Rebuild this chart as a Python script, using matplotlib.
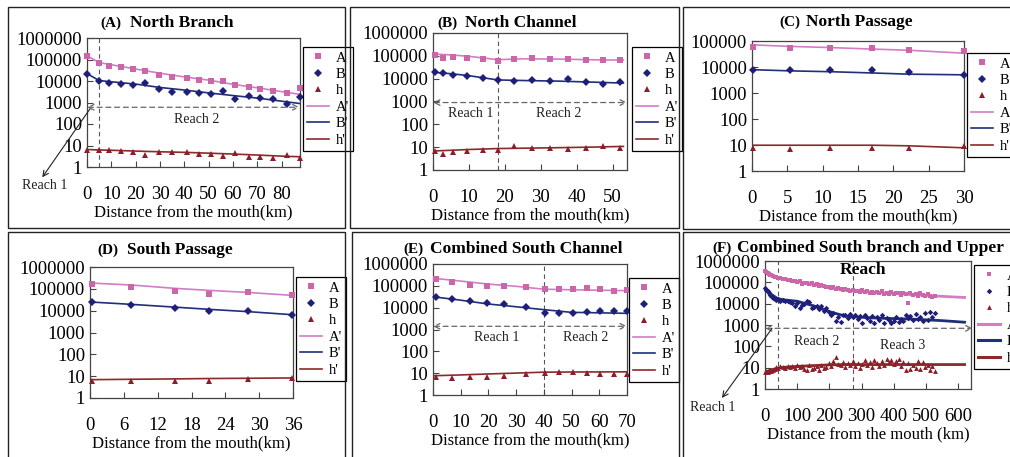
import numpy as np
import matplotlib.pyplot as plt
from matplotlib.ticker import FixedLocator, FuncFormatter, NullLocator
from matplotlib.patches import Rectangle
from matplotlib.lines import Line2D

plt.rcParams['font.family'] = ['Liberation Serif', 'DejaVu Serif']

W, H = 1010, 457

# ---- data ----
# (A) North Branch
nb_x = [0, 5, 9, 14, 19, 24, 29.5, 35, 41, 46, 51, 56, 61, 66.5, 71, 76.5, 82, 87.3]
nb_A = [150000, 70000, 52000, 43000, 35000, 29000, 20000, 15500, 14500, 11000,
        10500, 9500, 6500, 5300, 4300, 3400, 2800, 4800]
nb_B = [22000, 10200, 8200, 7500, 6800, 8300, 4200, 3000, 3000, 2800,
        2600, 3300, 1500, 2100, 1600, 1500, 850, 1900]
nb_h = [6, 6, 6, 5.5, 5, 3.5, 5, 5, 4.8, 4.2, 4.2, 3.4, 4.5, 2.8, 3, 2.5, 3.6, 2.6]
nb_fx = [0, 5, 10, 20, 30, 40, 50, 60, 70, 80, 87.3]
nb_fA = [150000, 72000, 57000, 36000, 23000, 15500, 11000, 7000, 4800, 3200, 2400]
nb_fB = [22000, 10500, 9200, 7200, 5000, 3800, 2800, 2100, 1600, 1150, 900]
nb_fh = [6.5, 6.2, 6, 5.5, 5.1, 4.8, 4.4, 4, 3.6, 3.2, 3]

# (B) North Channel
nc_x = [0.5, 2.7, 5.5, 9.5, 14, 18, 22.6, 27.5, 32.5, 37.5, 42.5, 47.3, 52]
nc_A = [110000, 80000, 85000, 80000, 72000, 60000, 75000, 78000, 76000, 72000, 67000, 67000, 67000]
nc_B = [19000, 17000, 15000, 13500, 11000, 8500, 8000, 8500, 8000, 9500, 6800, 6000, 7500]
nc_h = [6.5, 5.2, 6.2, 6.8, 7.2, 7.2, 11, 9.2, 9.5, 8.2, 9.5, 11, 9.2]
nc_fx = [0, 5, 10, 18, 25, 35, 45, 53]
nc_fA = [120000, 110000, 95000, 68000, 74000, 72000, 67000, 65000]
nc_fB = [19000, 16500, 13500, 8800, 8300, 7800, 7000, 6400]
nc_fh = [6.8, 7.3, 7.9, 8.7, 9.0, 9.5, 10.1, 10.8]

# (C) North Passage
np_x = [0.2, 5.4, 11, 17, 22.2, 30]
np_A = [58000, 52000, 56000, 52000, 45000, 42000]
np_B = [7900, 7500, 7900, 7500, 6300, 5100]
np_h = [8, 6.9, 7.6, 7.6, 7.6, 8.8]
np_fx = [0, 5.4, 11, 17, 22.2, 30]
np_fA = [71000, 62000, 56000, 49000, 44000, 34000]
np_fB = [7900, 7100, 6600, 5900, 5300, 5000]
np_fh = [9.8, 9.8, 9.8, 9.8, 9.3, 7.8]

# (D) South Passage
sp_x = [0.4, 7.3, 15.1, 21.1, 28.1, 35.9]
sp_A = [161000, 121000, 79000, 60000, 69000, 50000]
sp_B = [25000, 19000, 13000, 10000, 9300, 6500]
sp_h = [6.3, 6.3, 6.3, 6.3, 7.5, 8]
sp_fx = [0, 7.3, 15.1, 21.1, 28.1, 36]
sp_fA = [185000, 150000, 105000, 85000, 68000, 50000]
sp_fB = [25000, 19500, 14500, 11500, 9000, 6500]
sp_fh = [6.9, 7.2, 7.5, 7.8, 8.0, 8.3]

# (E) Combined South Channel
cs_x = [1.0, 6.9, 13.5, 19.4, 25.7, 33.5, 40.5, 45.6, 50.4, 55.4, 60.2, 65.2, 70]
cs_A = [200000, 151000, 112000, 100000, 100000, 84000, 68000, 68000, 68000, 76000, 68000, 57000, 63000]
cs_B = [29500, 25000, 19300, 15800, 14200, 10400, 5900, 5900, 5900, 6300, 6800, 6800, 6800]
cs_h = [6.8, 6.3, 6.8, 6.8, 7.6, 9.0, 10.7, 11.9, 11.9, 10.7, 9.6, 9.6, 9.6]
cs_fx = [0, 10, 20, 30, 40, 50, 60, 70]
cs_fA = [223000, 165000, 120000, 95000, 70000, 66000, 63000, 60000]
cs_fB = [31600, 22000, 14700, 11000, 8100, 6100, 5800, 5500]
cs_fh = [7.6, 8.3, 9.2, 10.1, 11.1, 11.3, 11.4, 11.5]

# (F) Combined South branch and Upper Reach
sb_x = [0, 4, 8, 12, 16, 20, 25, 30, 35, 40,
        47, 55, 62, 70, 78, 85, 92, 100, 108, 115,
        122, 130, 138, 145, 152, 160, 168, 175, 182, 190,
        198, 205, 212, 220, 228, 235, 242, 250, 258, 265,
        272, 280, 288, 295, 302, 310, 318, 325, 332, 340,
        348, 355, 362, 370, 378, 385, 392, 400, 408, 415,
        422, 430, 438, 445, 452, 460, 468, 475, 482, 490,
        498, 505, 512, 520, 527]
sb_A = [330000, 300000, 270000, 250000, 230000, 210000, 200000, 180000, 170000, 160000,
        155000, 145000, 150000, 130000, 125000, 120000, 115000, 105000, 110000, 80000,
        95000, 90000, 85000, 95000, 75000, 80000, 70000, 72000, 65000, 60000,
        62000, 55000, 58000, 50000, 52000, 47000, 45000, 48000, 42000, 40000,
        44000, 38000, 40000, 36000, 45000, 35000, 38000, 33000, 36000, 30000,
        34000, 31000, 40000, 29000, 32000, 28000, 35000, 27000, 30000, 33000,
        26000, 32000, 28000, 11000, 30000, 25000, 28000, 24000, 32000, 26000,
        23000, 28000, 22000, 20000, 24000]
sb_B = [55000, 45000, 38000, 32000, 26000, 22000, 19000, 17000, 15000, 16000,
        14000, 15000, 13000, 14000, 12000, 11000, 8000, 11000, 6500, 9000,
        10000, 14000, 12000, 6000, 7000, 8000, 5500, 7500, 4500, 6000,
        4000, 3000, 3500, 1500, 2500, 1400, 3000, 2800, 2200, 3200,
        2500, 3000, 2000, 2600, 1300, 2800, 2200, 1500, 2600, 1200,
        2400, 1800, 2800, 1300, 2200, 1700, 1300, 1600, 2500, 1400,
        2000, 1600, 3000, 2200, 2600, 1800, 3200, 2000, 2400, 1600,
        3500, 1800, 4000, 2500, 3500]
sb_h = [6, 7, 6.5, 7, 7.5, 7, 8, 9, 11, 10,
        12, 11, 10, 12, 11, 12, 10, 13, 11, 12,
        9, 8, 13, 9, 10, 12, 8, 14, 10, 11,
        16, 12, 20, 30, 15, 13, 18, 11, 16, 14,
        20, 12, 17, 10, 15, 22, 13, 18, 11, 24,
        16, 12, 20, 14, 25, 18, 22, 15, 20, 26,
        12, 18, 8, 16, 9, 14, 10, 20, 9, 18,
        11, 14, 8, 12, 7]
sb_fx = [0, 10, 20, 40, 60, 100, 150, 200, 250, 300, 350, 400, 450, 500, 550, 620]
sb_fA = [350000, 290000, 230000, 170000, 145000, 110000, 78000, 56000, 43000, 37000,
         33000, 30000, 27000, 24500, 22000, 19500]
sb_fB = [56000, 40000, 27000, 17000, 15000, 13000, 8000, 4200, 2600, 2300,
         2100, 2000, 1900, 1750, 1600, 1350]
sb_fh = [6, 7, 8, 9.5, 10.5, 11.5, 12.5, 13.5, 14, 14, 14, 14, 14, 14, 14, 14]

# ---- colours ----
C_A, C_B, C_H = '#CC66AA', '#1F1F7A', '#8B1E2A'
L_A, L_B, L_H = '#D47CC4', '#1F2F7A', '#8B2A2A'
FRAME = '#444444'

fig = plt.figure(figsize=(W / 100, H / 100), dpi=100)


def box(l, t, r, b):
    return [l / W, 1 - b / H, (r - l) / W, (b - t) / H]


def panel(rect, x, A, B, h, fx, fA, fB, fh, xmax, xticks, ymax, leg_at,
          xlabel='Distance from the mouth(km)', ms=5, lw=1.2, leg_lw=1.2):
    ax = fig.add_axes(box(*rect))
    ax.plot(fx, fA, color=L_A, lw=lw, zorder=2)
    ax.plot(fx, fB, color=L_B, lw=lw, zorder=2)
    ax.plot(fx, fh, color=L_H, lw=lw, zorder=2)
    ax.plot(x, A, 's', color=C_A, ms=ms, mew=0, clip_on=False, zorder=3)
    ax.plot(x, B, 'D', color=C_B, ms=ms * 0.8, mew=0, clip_on=False, zorder=3)
    ax.plot(x, h, '^', color=C_H, ms=ms, mew=0, clip_on=False, zorder=3)
    ax.set_yscale('log')
    ax.set_ylim(1, ymax)
    ax.set_xlim(0, xmax)
    yt = [10 ** k for k in range(int(round(np.log10(ymax))) + 1)]
    ax.yaxis.set_major_locator(FixedLocator(yt))
    ax.yaxis.set_major_formatter(FuncFormatter(lambda v, p: '%d' % round(v)))
    ax.yaxis.set_minor_locator(NullLocator())
    ax.set_xticks(xticks)
    ax.tick_params(direction='in', length=4, width=0.8, color=FRAME, labelsize=13.5)
    ax.tick_params(axis='x', pad=14)
    ax.tick_params(axis='y', pad=3.5)
    ax.set_xlabel(xlabel, fontsize=12, labelpad=1)
    for s in ax.spines.values():
        s.set_color(FRAME)
        s.set_linewidth(0.9)
    handles = [Line2D([], [], ls='none', marker='s', color=C_A, ms=ms, mew=0),
               Line2D([], [], ls='none', marker='D', color=C_B, ms=ms * 0.8, mew=0),
               Line2D([], [], ls='none', marker='^', color=C_H, ms=ms, mew=0),
               Line2D([], [], color=L_A, lw=leg_lw),
               Line2D([], [], color=L_B, lw=leg_lw),
               Line2D([], [], color=L_H, lw=leg_lw)]
    leg = ax.legend(handles, ['A', 'B', 'h', "A'", "B'", "h'"], loc='upper left',
                    bbox_to_anchor=(leg_at[0] / W, 1 - leg_at[1] / H),
                    bbox_transform=fig.transFigure, fontsize=10.5, fancybox=False,
                    edgecolor='black', framealpha=1, borderaxespad=0, borderpad=0.3,
                    handlelength=1.5, handletextpad=0.45, labelspacing=0.22, numpoints=1)
    leg.get_frame().set_linewidth(0.9)
    return ax


def reach_arrow(ax, x0, x1, y):
    ax.annotate('', xy=(x1, y), xytext=(x0, y), annotation_clip=False,
                arrowprops=dict(arrowstyle='<->', color='#666666', lw=0.9,
                                linestyle=(0, (4, 3)), shrinkA=0, shrinkB=0))


def vline(ax, x):
    ax.axvline(x, color='#555555', lw=0.8, ls=(0, (4, 3)), zorder=1)


def reach_text(ax, x, y, s):
    ax.text(x, y, s, fontsize=10, ha='center', va='center', color='#222222')


def reach1_outside(ax, start, end_ax, text_ax):
    ax.annotate('', xy=end_ax, xycoords='axes fraction', xytext=start, textcoords='data',
                annotation_clip=False,
                arrowprops=dict(arrowstyle='->', color='#222222', lw=0.8, shrinkA=0, shrinkB=0))
    ax.text(text_ax[0], text_ax[1], 'Reach 1', transform=ax.transAxes, fontsize=10,
            ha='center', va='center', clip_on=False, color='#222222')


def title(lab_x, main_x, y, lab, main):
    fig.text(lab_x / W, 1 - y / H, lab, fontsize=11, fontweight='bold', ha='left', va='center')
    fig.text(main_x / W, 1 - y / H, main, fontsize=12.5, fontweight='bold', ha='left', va='center')


# panel frames
for l, t, r, b in [(8, 7, 345, 228), (350, 7, 679, 228), (683, 7, 1020, 229),
                   (8, 232, 345, 470), (352, 232, 679, 470), (683, 232, 1020, 470)]:
    fig.add_artist(Rectangle((l / W, 1 - b / H), (r - l) / W, (b - t) / H,
                             transform=fig.transFigure, fill=False, ec='#222222', lw=1))

# (A)
ax = panel((87, 38, 300, 167), nb_x, nb_A, nb_B, nb_h, nb_fx, nb_fA, nb_fB, nb_fh,
           87.5, range(0, 81, 10), 1e6, (303, 47))
vline(ax, 5)
reach_arrow(ax, 0, 87.3, 600)
reach_text(ax, 45, 170, 'Reach 2')
reach1_outside(ax, (1.2, 500), (-0.21, -0.08), (-0.197, -0.14))
title(100, 130, 23, '(A)', 'North Branch')

# (B)
ax = panel((433, 33, 627, 170), nc_x, nc_A, nc_B, nc_h, nc_fx, nc_fA, nc_fB, nc_fh,
           54, range(0, 51, 10), 1e6, (632, 47))
vline(ax, 18)
reach_arrow(ax, 0, 54, 900)
reach_text(ax, 10.5, 290, 'Reach 1')
reach_text(ax, 35, 290, 'Reach 2')
title(437, 465, 23, '(B)', 'North Channel')

# (C)
ax = panel((752, 41, 964, 171), np_x, np_A, np_B, np_h, np_fx, np_fA, np_fB, np_fh,
           30, range(0, 31, 5), 1e5, (967, 53))
title(779, 806, 22, '(C)', 'North Passage')

# (D)
ax = panel((90, 267, 293, 398), sp_x, sp_A, sp_B, sp_h, sp_fx, sp_fA, sp_fB, sp_fh,
           36, range(0, 37, 6), 1e6, (296, 277))
title(97, 127, 250, '(D)', 'South Passage')

# (E)
ax = panel((433, 264, 627, 395), cs_x, cs_A, cs_B, cs_h, cs_fx, cs_fA, cs_fB, cs_fh,
           70, range(0, 71, 10), 1e6, (629, 278))
vline(ax, 40)
reach_arrow(ax, 0, 70, 1400)
reach_text(ax, 23, 420, 'Reach 1')
reach_text(ax, 55, 420, 'Reach 2')
title(403, 430, 249, '(E)', 'Combined South Channel')

# (F)
ax = panel((765, 261, 971, 389), sb_x, sb_A, sb_B, sb_h, sb_fx, sb_fA, sb_fB, sb_fh,
           640, range(0, 601, 100), 1e6, (974, 265),
           xlabel='Distance from the mouth (km)', ms=3.5, lw=2, leg_lw=2.2)
vline(ax, 40)
vline(ax, 274)
reach_arrow(ax, 0, 645, 700)
reach_text(ax, 160, 175, 'Reach 2')
reach_text(ax, 427, 112, 'Reach 3')
reach1_outside(ax, (22, 700), (-0.209, -0.07), (-0.252, -0.148))
title(712, 737, 248, '(F)', 'Combined South branch and Upper')
fig.text(863 / W, 1 - 270 / H, 'Reach', fontsize=12.5, fontweight='bold', ha='center', va='center')

fig.savefig('out.png', dpi=100, facecolor='white')
